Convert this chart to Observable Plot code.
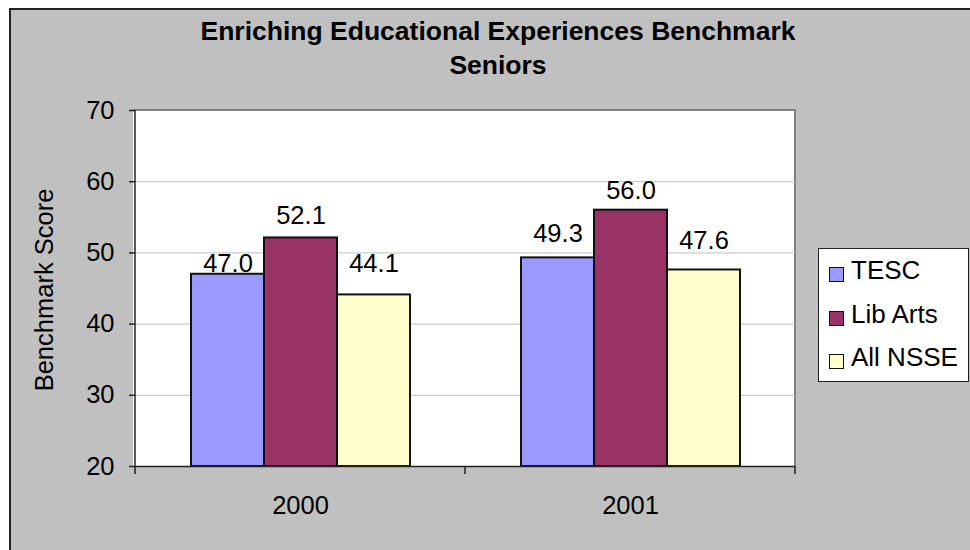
<!DOCTYPE html>
<html>
<head>
<meta charset="utf-8">
<script src="https://cdn.jsdelivr.net/npm/d3@7"></script>
<script src="https://cdn.jsdelivr.net/npm/@observablehq/plot@0.6"></script>
<style>
  html, body { margin: 0; padding: 0; background: white; }
  #wrap { position: relative; width: 970px; height: 550px; overflow: hidden;
          font-family: "Liberation Sans", Arial, sans-serif; color: #000; }
  #chartArea { position: absolute; left: 9px; top: 8px; width: 980px; height: 560px;
               background: #c0c0c0; border-left: 2px solid #222; border-top: 2px solid #222; }
  #plotBg { position: absolute; background: white; box-sizing: border-box;
            border-top: 2px solid #808080; border-right: 2px solid #808080; }
  .title { position: absolute; left: 98px; width: 800px; text-align: center;
           font-weight: bold; font-size: 26.5px; line-height: 34px; white-space: nowrap; }
  #legend { position: absolute; left: 818px; top: 248px; width: 151px; height: 134px;
            box-sizing: border-box; background: white; border: 1.5px solid #222; }
  .lg-sw { position: absolute; width: 15px; height: 15px; box-sizing: border-box;
           border: 1.5px solid #111; }
  .lg-tx { position: absolute; font-size: 26px; line-height: 30px; white-space: nowrap; }
  #plot { position: absolute; left: 0; top: 0; }
</style>
</head>
<body>
<div id="wrap">
  <div id="chartArea"></div>
  <div id="plotBg"></div>
  <div id="plot"></div>
  <div id="legend"></div>
</div>
<script>
// ---- data ----
const years = ["2000", "2001"];
const series = ["TESC", "Lib Arts", "All NSSE"];
const seriesColors = ["#9999ff", "#993366", "#ffffcc"];
const tesc = [47.0, 49.3];
const libArts = [52.1, 56.0];
const allNsse = [44.1, 47.6];
const yTicks = [20, 30, 40, 50, 60, 70];
const gridTicks = [30, 40, 50, 60];
const titleLines = ["Enriching Educational Experiences Benchmark", "Seniors"];
const yLabel = "Benchmark Score";
// style: pixel gap between each value label's baseline and its bar top (series order, per year)
const labelGap = [[2, 16], [14, 11], [23, 21]];

const values = [tesc, libArts, allNsse];
const rows = [];
years.forEach((yr, i) => series.forEach((s, j) =>
  rows.push({year: yr, series: s, value: values[j][i], gap: labelGap[j][i]})));

// ---- layout ----
const W = 970, H = 550;
const mL = 134, mR = 175, mT = 110, mB = 84;
const fontFamily = '"Liberation Sans", Arial, sans-serif';
const fs = 25.5;

const bg = document.getElementById("plotBg");
bg.style.left = (mL - 1) + "px";
bg.style.top = (mT - 1) + "px";
bg.style.width = (W - mL - mR + 2) + "px";
bg.style.height = (H - mT - mB + 1) + "px";

const textMarks = rows.map(r => Plot.text([r], {
  fx: "year", x: "series", y: "value", text: d => d.value.toFixed(1),
  lineAnchor: "bottom", dy: -r.gap, fontSize: fs, fill: "#000"
}));

const plot = Plot.plot({
  width: W,
  height: H,
  marginLeft: mL,
  marginRight: mR,
  marginTop: mT,
  marginBottom: mB,
  style: {background: "transparent", fontFamily, color: "#000", overflow: "visible"},
  fx: {domain: years, padding: 0, label: null},
  x: {domain: series, paddingInner: 0, paddingOuter: 0.742, axis: null},
  y: {domain: [20, 70], label: null},
  color: {domain: series, range: seriesColors},
  marks: [
    Plot.ruleY(gridTicks, {stroke: "#c0c0c0", strokeWidth: 1}),
    Plot.barY(rows, {fx: "year", x: "series", y1: 20, y2: "value", fill: "series",
                     stroke: "#111", strokeWidth: 2}),
    ...textMarks,
    Plot.ruleY([20], {stroke: "#222", strokeWidth: 1.5}),
    Plot.axisY({ticks: yTicks, tickSize: 6, tickPadding: 15, fontSize: fs, stroke: "#222",
                strokeWidth: 1.5, label: null, tickFormat: d => String(d)}),
    Plot.axisFx({anchor: "bottom", tickSize: 0, tickPadding: 29, fontSize: fs, label: null})
  ]
});
document.getElementById("plot").appendChild(plot);

// ---- decorations: y axis line, category boundary ticks, y label ----
const svg = d3.select(plot);
const ys = plot.scale("y");
const fxs = plot.scale("fx");
const yTop = ys.apply(70), yBot = ys.apply(20);
const deco = svg.append("g").attr("stroke", "#222").attr("stroke-width", 1.5);
const xLeft = fxs.apply(years[0]);
deco.append("line").attr("x1", xLeft).attr("x2", xLeft).attr("y1", yTop).attr("y2", yBot + 8);
years.forEach(yr => {
  const xe = fxs.apply(yr) + fxs.bandwidth;
  deco.append("line").attr("x1", xe).attr("x2", xe).attr("y1", yBot).attr("y2", yBot + 8);
});
svg.append("text")
  .attr("transform", `translate(53,${(yTop + yBot) / 2 + 2}) rotate(-90)`)
  .attr("text-anchor", "middle")
  .attr("font-size", fs)
  .attr("font-family", fontFamily)
  .attr("fill", "#000")
  .text(yLabel);

// ---- title ----
const wrap = document.getElementById("wrap");
titleLines.forEach((t, i) => {
  const d = document.createElement("div");
  d.className = "title";
  d.style.top = (14 + i * 34) + "px";
  d.textContent = t;
  wrap.appendChild(d);
});

// ---- legend ----
const baselines = [279, 323, 366];
series.forEach((s, i) => {
  const sw = document.createElement("div");
  sw.className = "lg-sw";
  sw.style.left = "829px";
  sw.style.top = (baselines[i] - 12.5) + "px";
  sw.style.background = seriesColors[i];
  wrap.appendChild(sw);
  const tx = document.createElement("div");
  tx.className = "lg-tx";
  tx.style.left = "851px";
  tx.style.top = (baselines[i] - 24.2) + "px";
  tx.textContent = s;
  wrap.appendChild(tx);
});
</script>
</body>
</html>
